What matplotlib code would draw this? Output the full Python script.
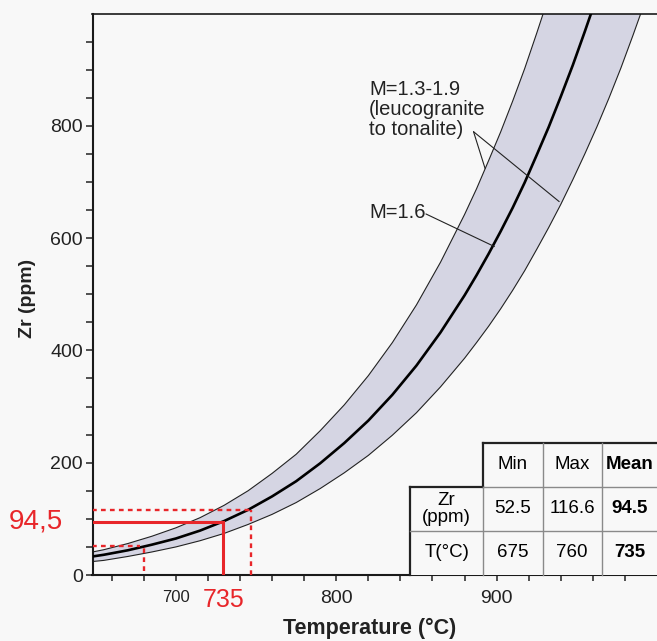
#!/usr/bin/env python3
import matplotlib
matplotlib.use("Agg")
import matplotlib.pyplot as plt
from matplotlib.patches import Rectangle
from matplotlib.transforms import blended_transform_factory

# zircon saturation curves (T in degC, Zr in ppm)
temp_c = [648, 655, 670, 685, 700, 715, 730, 745, 760, 775, 790, 805, 820,
          835, 850, 865, 880, 887.5, 895, 902.5, 910, 917.5, 925, 932.5, 940,
          947.5, 955, 962.5, 970, 977.5, 985, 992.5, 1000]
zr_m16 = [33, 36, 44, 54, 65, 79, 96, 116, 140, 167, 199, 235, 275,
          321, 373, 432, 498, 534, 572, 612, 654, 699, 748, 798, 852,
          908, 968, 1030, 1096, 1166, 1240, 1318, 1400]
zr_m19 = [41, 45, 56, 69, 84, 102, 124, 150, 181, 215, 257, 303, 355,
          414, 481, 557, 642, 688, 738, 789, 844, 902, 965, 1030, 1099,
          1172, 1249, 1329, 1414, 1504, 1600, 1700, 1806]
zr_m13 = [24, 26, 33, 41, 50, 61, 74, 90, 108, 129, 154, 182, 213,
          249, 289, 335, 386, 414, 443, 474, 507, 542, 580, 619, 660,
          704, 750, 798, 849, 903, 961, 1021, 1085]

# red read-off lines (where they sit in the drawing)
zr_mean, zr_min, zr_max = 94.5, 52.5, 116.6
t_mean_line, t_min_line, t_max_line = 729.5, 680, 747

# summary table
table_cols = ["Min", "Max", "Mean"]
table_rows = ["Zr\n(ppm)", "T(°C)"]
table_vals = [["52.5", "116.6", "94.5"], ["675", "760", "735"]]

RED = "#e8262a"
BAND = "#d5d5e3"
BG = "#f8f8f8"


def draw_table(ax):
    # column / row edges in axes fraction
    xe = [0.5624, 0.6923, 0.7975, 0.9020, 1.0]
    ye = [0.2356, 0.1573, 0.0784, 0.0]
    kw = dict(transform=ax.transAxes, clip_on=False, zorder=6)

    ax.add_patch(Rectangle((xe[1], ye[1]), xe[4] - xe[1], ye[0] - ye[1],
                           facecolor=BG, edgecolor="none", **kw))
    ax.add_patch(Rectangle((xe[0], ye[3]), xe[4] - xe[0], ye[1] - ye[3],
                           facecolor=BG, edgecolor="none", **kw))

    dark = dict(color="#222222", lw=1.6, **kw)
    grey = dict(color="#8a8a8a", lw=1.0, **kw)
    # outer borders
    ax.plot([xe[1], xe[4]], [ye[0], ye[0]], **dark)
    ax.plot([xe[1], xe[1]], [ye[0], ye[1]], **dark)
    ax.plot([xe[0], xe[1]], [ye[1], ye[1]], **dark)
    ax.plot([xe[0], xe[0]], [ye[1], ye[3]], **dark)
    # inner lines
    ax.plot([xe[1], xe[4]], [ye[1], ye[1]], **grey)
    ax.plot([xe[0], xe[4]], [ye[2], ye[2]], **grey)
    for x in xe[1:4]:
        ax.plot([x, x], [ye[3], ye[0] if x > xe[1] else ye[1]], **grey)

    tkw = dict(transform=ax.transAxes, ha="center", va="center",
               fontsize=13.5, zorder=7, clip_on=False)
    for j, name in enumerate(table_cols):
        xc = (xe[j + 1] + xe[j + 2]) / 2
        ax.text(xc, (ye[0] + ye[1]) / 2, name,
                fontweight="bold" if name == "Mean" else "normal", **tkw)
    for i, row in enumerate(table_rows):
        yc = (ye[i + 1] + ye[i + 2]) / 2
        ax.text((xe[0] + xe[1]) / 2, yc, row, linespacing=0.95, **tkw)
        for j, val in enumerate(table_vals[i]):
            xc = (xe[j + 1] + xe[j + 2]) / 2
            ax.text(xc, yc, val, fontweight="bold" if j == 2 else "normal", **tkw)


def main():
    plt.rcParams["font.family"] = ["Liberation Sans", "DejaVu Sans"]

    W, H = 657, 641
    fig = plt.figure(figsize=(W / 100, H / 100), dpi=100, facecolor=BG)
    ax = fig.add_axes([92.5 / W, 66 / H, 564.5 / W, 561.5 / H], facecolor=BG)

    # band M=1.3-1.9 and the M=1.6 curve
    ax.fill_between(temp_c, zr_m13, zr_m19, color=BAND, lw=0, zorder=1)
    ax.plot(temp_c, zr_m19, color="#222222", lw=0.8, zorder=2)
    ax.plot(temp_c, zr_m13, color="#222222", lw=0.8, zorder=2)
    ax.plot(temp_c, zr_m16, color="black", lw=1.9, zorder=3)

    ax.set_xlim(648, 1000)
    ax.set_ylim(0, 1000)
    x0 = ax.get_xlim()[0]

    # red read-off lines
    ax.plot([x0, t_mean_line], [zr_mean, zr_mean], color=RED, lw=2.2, zorder=4)
    ax.plot([t_mean_line, t_mean_line], [0, zr_mean], color=RED, lw=2.2, zorder=4)
    dash = dict(color=RED, lw=1.7, ls=(0, (2.0, 1.8)), zorder=4)
    ax.plot([x0, t_max_line], [zr_max, zr_max], **dash)
    ax.plot([t_max_line, t_max_line], [0, zr_max], **dash)
    ax.plot([x0, t_min_line - 2.5], [zr_min, zr_min], **dash)
    ax.plot([t_min_line, t_min_line], [8, zr_min - 4], **dash)

    # annotations
    ax.text(820.4, 882, "M=1.3-1.9\n(leucogranite\nto tonalite)",
            ha="left", va="top", fontsize=14.5, linespacing=1.08, color="#222222")
    ax.text(820.4, 646, "M=1.6", ha="left", va="center", fontsize=14.5,
            color="#222222")
    lead = dict(arrowstyle="-", lw=0.8, color="#222222", shrinkA=0, shrinkB=0)
    ax.annotate("", xy=(892.8, 724), xytext=(885.6, 789.5), arrowprops=lead)
    ax.annotate("", xy=(939, 665), xytext=(885.6, 789.5), arrowprops=lead)
    ax.annotate("", xy=(898.6, 585), xytext=(855.9, 643), arrowprops=lead)

    # axes styling
    ax.spines["right"].set_visible(False)
    ax.spines["left"].set_linewidth(1.5)
    ax.spines["bottom"].set_linewidth(1.5)
    ax.spines["top"].set_linewidth(1.2)
    for s in ax.spines.values():
        s.set_color("#1a1a1a")

    ax.set_yticks([0, 200, 400, 600, 800])
    ax.set_yticks(list(range(50, 1000, 50)), minor=True)
    ax.set_xticks([700, 800, 900])
    ax.set_xticks([660, 680, 720, 740, 760, 780, 820, 840, 860, 880,
                   920, 940, 960, 980], minor=True)
    ax.tick_params(axis="y", which="both", direction="out", length=4.8,
                   width=1.1, pad=2.0, labelsize=14, colors="#222222")
    ax.tick_params(axis="x", which="both", direction="out", length=4,
                   width=1.1, pad=7, labelsize=14, colors="#222222")
    ax.get_xticklabels()[0].set_fontsize(12)

    # red value labels
    bx = blended_transform_factory(ax.transData, ax.transAxes)
    by = blended_transform_factory(ax.transAxes, ax.transData)
    ax.text(t_mean_line, -0.024, "735", transform=bx, ha="center", va="top",
            fontsize=18, color=RED, clip_on=False)
    ax.text(-0.052, zr_mean, "94,5", transform=by, ha="right", va="center",
            fontsize=20, color=RED, clip_on=False)

    draw_table(ax)

    fig.text(28 / W, 1 - 298 / H, "Zr (ppm)", rotation=90, ha="center",
             va="center", fontsize=14, fontweight="bold", color="#222222")
    fig.text(370 / W, 1 - 628 / H, "Temperature (°C)", ha="center",
             va="center", fontsize=15.5, fontweight="bold", color="#222222")

    fig.savefig("out.png", dpi=100, facecolor=BG)
    plt.close(fig)


if __name__ == "__main__":
    main()
